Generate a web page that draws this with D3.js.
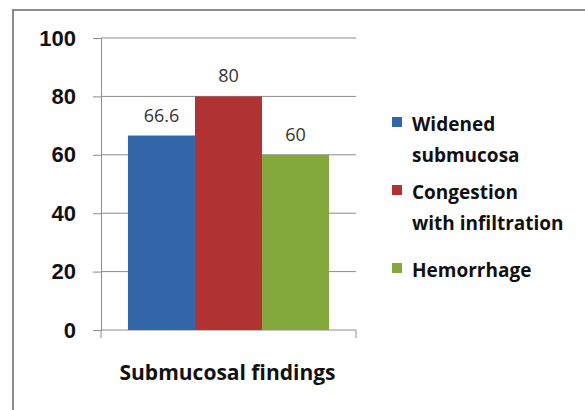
<!DOCTYPE html>
<html>
<head>
<meta charset="utf-8">
<script src="https://cdn.jsdelivr.net/npm/d3@7"></script>
<style>
  body { margin: 0; background: #fff; }
  svg { display: block; font-family: "Open Sans", "Liberation Sans", sans-serif; }
</style>
</head>
<body>
<script>
// data
const groups = ["Submucosal findings"];
const seriesNames = ["Widened submucosa", "Congestion with infiltration", "Hemorrhage"];
const seriesValues = [66.6, 80, 60];
const seriesColors = ["#3366a8", "#b03232", "#85a83c"];
const legendLines = [["Widened", "submucosa"], ["Congestion", "with infiltration"], ["Hemorrhage"]];
const yTicks = [0, 20, 40, 60, 80, 100];

const width = 585, height = 410;

const svg = d3.select("body").append("svg")
    .attr("width", width)
    .attr("height", height);

// outer frame (right/bottom run off the picture)
svg.append("rect")
    .attr("x", 13).attr("y", 10)
    .attr("width", 600).attr("height", 420)
    .attr("fill", "none")
    .attr("stroke", "#8a8a8a")
    .attr("stroke-width", 2);

const y = d3.scaleLinear().domain([0, 100]).range([330, 38]);
const x0 = d3.scaleBand().domain(groups).range([101, 356]).paddingInner(0).paddingOuter(0.134);
const x1 = d3.scaleBand().domain(seriesNames).range([0, x0.bandwidth()]).padding(0);

// gridlines
svg.append("g")
  .selectAll("line")
  .data(yTicks.filter(d => d > 0))
  .enter().append("line")
    .attr("x1", 101).attr("x2", 356)
    .attr("y1", d => y(d)).attr("y2", d => y(d))
    .attr("stroke", "#8c8c8c")
    .attr("stroke-width", 1);

// y axis
const yAxis = svg.append("g")
    .attr("transform", "translate(101,0)")
    .call(d3.axisLeft(y).tickValues(yTicks).tickSize(8).tickPadding(17));
yAxis.select(".domain").attr("stroke", "#8c8c8c");
yAxis.selectAll(".tick line").attr("stroke", "#8c8c8c");
yAxis.selectAll(".tick text")
    .attr("fill", "#111")
    .style("font-size", "22px")
    .style("font-weight", "bold");

// x axis
const xAxis = svg.append("g")
    .attr("transform", "translate(0,330)");
xAxis.append("line")
    .attr("x1", 101).attr("x2", 356)
    .attr("stroke", "#8c8c8c");
xAxis.selectAll(".xt")
  .data([101, 356])
  .enter().append("line")
    .attr("x1", d => d).attr("x2", d => d)
    .attr("y1", 0).attr("y2", 8)
    .attr("stroke", "#8c8c8c");

svg.append("text")
    .attr("x", x0(groups[0]) + x0.bandwidth() / 2 - 1)
    .attr("y", 380)
    .attr("text-anchor", "middle")
    .attr("fill", "#111")
    .style("font-size", "21px")
    .style("font-weight", "bold")
    .text(groups[0]);

// bars
const bars = svg.append("g")
    .attr("transform", `translate(${x0(groups[0])},0)`);
bars.selectAll("rect")
  .data(seriesValues)
  .enter().append("rect")
    .attr("x", (d, i) => x1(seriesNames[i]))
    .attr("y", d => y(d))
    .attr("width", x1.bandwidth())
    .attr("height", d => y(0) - y(d))
    .attr("fill", (d, i) => seriesColors[i]);

bars.selectAll("text")
  .data(seriesValues)
  .enter().append("text")
    .attr("x", (d, i) => x1(seriesNames[i]) + x1.bandwidth() / 2)
    .attr("y", d => y(d) - 14)
    .attr("text-anchor", "middle")
    .attr("fill", "#333")
    .style("font-size", "18px")
    .text(d => d);

// legend
const legendY = [117, 185, 263];
const legend = svg.append("g");
const item = legend.selectAll("g")
  .data(seriesNames)
  .enter().append("g")
    .attr("transform", (d, i) => `translate(392,${legendY[i]})`);
item.append("rect")
    .attr("width", 10).attr("height", 10)
    .attr("fill", (d, i) => seriesColors[i]);
item.append("text")
    .attr("x", 20)
    .attr("y", 14)
    .attr("fill", "#111")
    .style("font-size", "19px")
    .style("font-weight", "bold")
    .selectAll("tspan")
    .data((d, i) => legendLines[i])
    .enter().append("tspan")
      .attr("x", 20)
      .attr("dy", (d, i) => i === 0 ? 0 : 31)
      .text(d => d);
</script>
</body>
</html>
